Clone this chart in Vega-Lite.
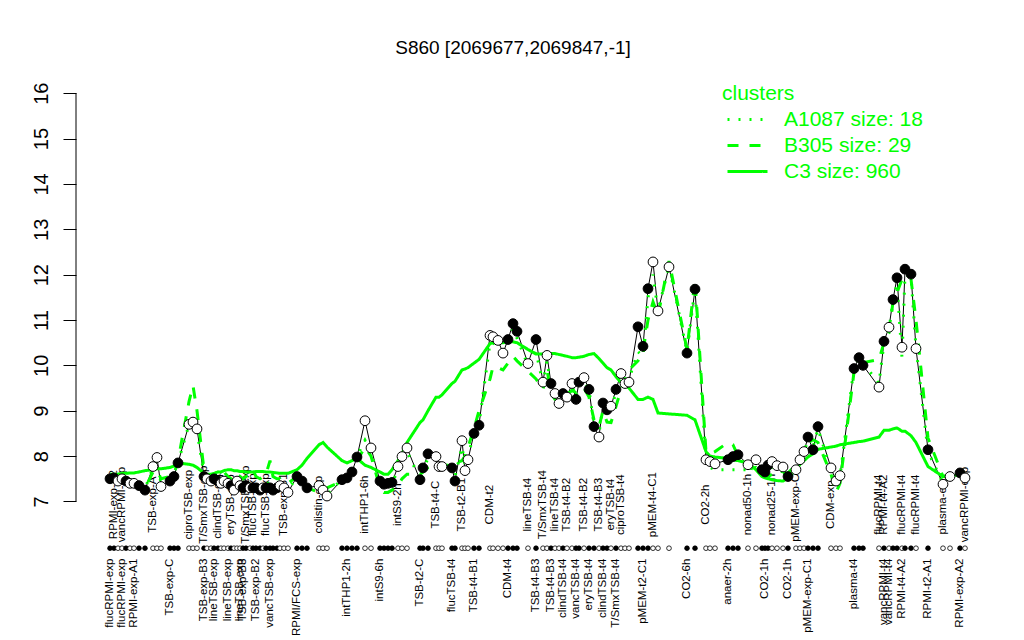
{
"$schema": "https://vega.github.io/schema/vega-lite/v6.json",
"width": 914, "height": 490,
"autosize": {"type": "none"},
"padding": {"left": 76, "top": 75, "right": 34, "bottom": 75},
"background": "white",
"config": {"view": {"stroke": null}, "font": "Liberation Sans"},
"title": {"text": "S860 [2069677,2069847,-1]", "fontSize": 19, "font": "Liberation Sans", "fontWeight": "normal", "anchor": "middle", "baseline": "alphabetic", "offset": 2, "dx": -20, "color": "black"},
"data": {"values": [
{"p":110,"v":7.50,"f":1,"c":7.60,"b":7.50,"a":7.55,"u":"flucRPMI-exp"},
{"p":114,"v":7.52,"f":1,"c":7.60,"b":7.50,"a":7.50,"t":"RPMI-exp-A2"},
{"p":118,"v":7.45,"f":0,"c":7.60,"b":7.48,"a":7.45},
{"p":122,"v":7.50,"f":0,"c":7.62,"b":7.50,"a":7.50,"t":"vancRPMI-exp","u":"flucRPMI-exp"},
{"p":126,"v":7.45,"f":1,"c":7.62,"b":7.45,"a":7.45},
{"p":130,"v":7.40,"f":0,"c":7.63,"b":7.40,"a":7.42},
{"p":134,"v":7.40,"f":0,"c":7.63,"b":7.40,"a":7.40,"u":"RPMI-exp-A1"},
{"p":139,"v":7.35,"f":1,"c":7.65,"b":7.38,"a":7.35},
{"p":145,"v":7.25,"f":1,"c":7.68,"b":7.30,"a":7.28},
{"p":153,"v":7.77,"f":0,"c":7.70,"b":7.65,"a":7.75,"t":"TSB-exp-A"},
{"p":157,"v":7.97,"f":0,"c":7.72,"b":7.70,"a":7.90},
{"p":161,"v":7.33,"f":0,"c":7.72,"b":7.50,"a":7.40},
{"p":170,"v":7.45,"f":1,"c":7.75,"b":7.55,"a":7.50,"u":"TSB-exp-C"},
{"p":174,"v":7.55,"f":1,"c":7.78,"b":7.60,"a":7.55},
{"p":178,"v":7.85,"f":1,"c":7.85,"b":7.90,"a":7.85},
{"p":189,"v":8.70,"f":0,"c":7.82,"b":9.20,"a":8.70,"t":"ciproTSB-exp"},
{"p":193,"v":8.75,"f":0,"c":7.80,"b":9.55,"a":8.75},
{"p":197,"v":8.60,"f":0,"c":7.75,"b":9.00,"a":8.55},
{"p":204,"v":7.55,"f":1,"c":7.62,"b":7.70,"a":7.60,"t":"T/SmxTSB-exp","u":"TSB-exp-B3"},
{"p":207,"v":7.50,"f":0,"c":7.60,"b":7.60,"a":7.50},
{"p":211,"v":7.45,"f":0,"c":7.60,"b":7.55,"a":7.45},
{"p":214,"v":7.50,"f":1,"c":7.62,"b":7.60,"a":7.55,"u":"lineTSB-exp"},
{"p":218,"v":7.45,"f":1,"c":7.65,"b":7.55,"a":7.50,"t":"clindTSB-exp"},
{"p":221,"v":7.40,"f":0,"c":7.65,"b":7.60,"a":7.45},
{"p":224,"v":7.45,"f":0,"c":7.68,"b":7.65,"a":7.50},
{"p":228,"v":7.40,"f":0,"c":7.70,"b":7.55,"a":7.40,"u":"lineTSB-exp"},
{"p":231,"v":7.35,"f":1,"c":7.70,"b":7.50,"a":7.35,"t":"eryTSB-exp"},
{"p":234,"v":7.25,"f":0,"c":7.68,"b":7.45,"a":7.30},
{"p":237,"v":7.45,"f":0,"c":7.68,"b":7.60,"a":7.50},
{"p":240,"v":7.35,"f":0,"c":7.66,"b":7.55,"a":7.40,"u":"lineTSB-exp"},
{"p":243,"v":7.30,"f":1,"c":7.66,"b":7.50,"a":7.35,"u":"TSB-exp-B3"},
{"p":246,"v":7.35,"f":1,"c":7.65,"b":7.55,"a":7.40,"t":"T/SmxTSB-exp"},
{"p":250,"v":7.30,"f":0,"c":7.65,"b":7.60,"a":7.35},
{"p":253,"v":7.30,"f":1,"c":7.65,"b":7.70,"a":7.35,"t":"flucTSB-exp"},
{"p":256,"v":7.30,"f":1,"c":7.66,"b":7.55,"a":7.35,"u":"TSB-exp-B2"},
{"p":260,"v":7.25,"f":1,"c":7.66,"b":7.50,"a":7.30},
{"p":263,"v":7.30,"f":0,"c":7.66,"b":7.55,"a":7.35},
{"p":266,"v":7.30,"f":1,"c":7.65,"b":7.60,"a":7.35,"t":"flucTSB-exp"},
{"p":270,"v":7.30,"f":1,"c":7.65,"b":7.90,"a":7.45,"u":"vancTSB-exp"},
{"p":273,"v":7.25,"f":1,"c":7.64,"b":7.55,"a":7.40},
{"p":277,"v":7.30,"f":1,"c":7.63,"b":7.50,"a":7.35},
{"p":280,"v":7.35,"f":0,"c":7.62,"b":7.50,"a":7.40},
{"p":284,"v":7.30,"f":0,"c":7.62,"b":7.45,"a":7.35,"t":"TSB-exp-B1"},
{"p":288,"v":7.20,"f":0,"c":7.62,"b":7.40,"a":7.25},
{"p":297,"v":7.55,"f":1,"c":7.70,"b":7.55,"a":7.55,"u":"RPMI/FCS-exp"},
{"p":302,"v":7.45,"f":1,"c":7.80,"b":7.45,"a":7.45},
{"p":307,"v":7.30,"f":1,"c":7.95,"b":7.30,"a":7.30},
{"p":319,"v":7.35,"f":0,"c":8.25,"b":7.20,"a":7.40,"t":"colistin-exp"},
{"p":323,"v":7.25,"f":0,"c":8.30,"b":7.25,"a":7.35},
{"p":327,"v":7.12,"f":0,"c":8.20,"b":7.30,"a":7.15},
{"p":342,"v":7.48,"f":1,"c":7.90,"b":7.45,"a":7.50},
{"p":347,"v":7.52,"f":1,"c":7.85,"b":7.55,"a":7.50,"u":"intTHP1-2h"},
{"p":352,"v":7.65,"f":1,"c":7.90,"b":7.70,"a":7.65},
{"p":357,"v":7.98,"f":1,"c":7.95,"b":7.90,"a":8.00},
{"p":365,"v":8.78,"f":0,"c":7.80,"b":8.20,"a":8.35,"t":"intTHP1-6h"},
{"p":371,"v":8.18,"f":0,"c":7.75,"b":8.00,"a":8.10},
{"p":380,"v":7.45,"f":1,"c":7.65,"b":7.30,"a":7.40,"u":"intS9-6h"},
{"p":384,"v":7.38,"f":1,"c":7.60,"b":7.20,"a":7.35},
{"p":388,"v":7.40,"f":1,"c":7.60,"b":7.20,"a":7.40},
{"p":392,"v":7.42,"f":1,"c":7.70,"b":7.25,"a":7.40},
{"p":398,"v":7.77,"f":0,"c":7.90,"b":7.35,"a":7.70,"t":"intS9-2h"},
{"p":402,"v":7.99,"f":0,"c":8.05,"b":7.50,"a":7.90},
{"p":407,"v":8.18,"f":0,"c":8.30,"b":7.60,"a":8.10},
{"p":420,"v":7.48,"f":1,"c":8.74,"b":7.60,"a":7.50,"u":"TSB-t2-C"},
{"p":423,"v":7.74,"f":1,"c":8.80,"b":7.65,"a":7.70},
{"p":428,"v":8.05,"f":1,"c":9.00,"b":7.75,"a":7.95},
{"p":436,"v":7.99,"f":0,"c":9.30,"b":7.85,"a":7.95,"t":"TSB-t4-C"},
{"p":439,"v":7.77,"f":0,"c":9.30,"b":7.80,"a":7.80},
{"p":442,"v":7.77,"f":0,"c":9.35,"b":7.80,"a":7.80},
{"p":452,"v":7.74,"f":1,"c":9.60,"b":7.80,"a":7.75,"u":"flucTSB-t4"},
{"p":455,"v":7.45,"f":1,"c":9.65,"b":7.85,"a":7.55},
{"p":462,"v":8.34,"f":0,"c":9.90,"b":7.90,"a":8.20,"t":"TSB-t2-B1"},
{"p":465,"v":7.68,"f":0,"c":9.92,"b":8.00,"a":7.80},
{"p":468,"v":7.92,"f":0,"c":9.95,"b":8.20,"a":8.00},
{"p":474,"v":8.50,"f":1,"c":10.05,"b":8.60,"a":8.50,"u":"TSB-t4-B1"},
{"p":479,"v":8.68,"f":1,"c":10.13,"b":9.00,"a":8.70},
{"p":490,"v":10.66,"f":0,"c":10.48,"b":9.70,"a":10.50,"t":"CDM-t2"},
{"p":493,"v":10.63,"f":0,"c":10.50,"b":9.97,"a":10.50},
{"p":498,"v":10.55,"f":0,"c":10.50,"b":9.95,"a":10.40},
{"p":503,"v":10.27,"f":0,"c":10.50,"b":9.90,"a":10.20},
{"p":508,"v":10.57,"f":1,"c":10.52,"b":10.05,"a":10.45,"u":"CDM-t4"},
{"p":513,"v":10.92,"f":1,"c":10.52,"b":10.20,"a":10.80},
{"p":517,"v":10.75,"f":1,"c":10.50,"b":10.10,"a":10.60},
{"p":528,"v":10.04,"f":0,"c":10.35,"b":9.87,"a":10.00,"t":"lineTSB-t4"},
{"p":536,"v":10.57,"f":1,"c":10.25,"b":9.70,"a":10.30,"u":"TSB-t4-B3"},
{"p":543,"v":9.63,"f":0,"c":10.25,"b":9.47,"a":9.60,"t":"T/SmxTSB-t4"},
{"p":547,"v":10.22,"f":0,"c":10.26,"b":9.90,"a":10.10},
{"p":551,"v":9.60,"f":1,"c":10.26,"b":9.40,"a":9.55,"u":"TSB-t4-B3"},
{"p":555,"v":9.38,"f":0,"c":10.26,"b":9.25,"a":9.35,"t":"lineTSB-t4"},
{"p":559,"v":9.16,"f":0,"c":10.24,"b":9.20,"a":9.20},
{"p":563,"v":9.38,"f":1,"c":10.22,"b":9.30,"a":9.40,"u":"clindTSB-t4"},
{"p":567,"v":9.30,"f":0,"c":10.20,"b":9.35,"a":9.30,"t":"TSB-t4-B2"},
{"p":572,"v":9.60,"f":0,"c":10.17,"b":9.45,"a":9.55},
{"p":576,"v":9.25,"f":1,"c":10.17,"b":9.40,"a":9.30,"u":"vancTSB-t4"},
{"p":579,"v":9.63,"f":1,"c":10.18,"b":9.50,"a":9.60},
{"p":584,"v":9.73,"f":0,"c":10.20,"b":9.50,"a":9.65,"t":"TSB-t4-B2"},
{"p":589,"v":9.47,"f":1,"c":10.24,"b":9.30,"a":9.45,"u":"eryTSB-t4"},
{"p":594,"v":8.65,"f":1,"c":10.26,"b":8.80,"a":8.70},
{"p":599,"v":8.42,"f":0,"c":10.15,"b":8.65,"a":8.50,"t":"TSB-t4-B3"},
{"p":603,"v":9.17,"f":1,"c":10.05,"b":9.00,"a":9.10,"u":"clindTSB-t4"},
{"p":607,"v":9.02,"f":1,"c":9.95,"b":8.75,"a":9.00},
{"p":611,"v":9.10,"f":0,"c":9.90,"b":8.74,"a":9.05,"t":"eryTSB-t4"},
{"p":616,"v":9.47,"f":1,"c":9.75,"b":9.10,"a":9.40,"u":"T/SmxTSB-t4"},
{"p":621,"v":9.82,"f":0,"c":9.62,"b":9.47,"a":9.75,"t":"ciproTSB-t4"},
{"p":625,"v":9.60,"f":0,"c":9.55,"b":9.70,"a":9.60},
{"p":629,"v":9.63,"f":0,"c":9.50,"b":9.90,"a":9.70},
{"p":638,"v":10.85,"f":1,"c":9.25,"b":10.10,"a":10.30},
{"p":643,"v":10.42,"f":1,"c":9.25,"b":10.30,"a":10.20,"u":"pMEM-t2-C1"},
{"p":648,"v":11.69,"f":1,"c":9.30,"b":11.00,"a":11.50},
{"p":653,"v":12.28,"f":0,"c":9.25,"b":11.40,"a":12.00,"t":"pMEM-t4-C1"},
{"p":658,"v":11.20,"f":0,"c":8.95,"b":11.10,"a":11.20},
{"p":669,"v":12.17,"f":0,"c":8.93,"b":12.30,"a":12.20},
{"p":687,"v":10.27,"f":1,"c":8.90,"b":10.35,"a":10.30,"u":"CO2-6h"},
{"p":695,"v":11.68,"f":1,"c":8.80,"b":11.90,"a":11.70},
{"p":706,"v":7.92,"f":0,"c":8.10,"b":8.10,"a":7.90,"t":"CO2-2h"},
{"p":710,"v":7.88,"f":0,"c":8.00,"b":8.05,"a":7.75},
{"p":715,"v":7.83,"f":0,"c":7.98,"b":8.10,"a":7.70},
{"p":728,"v":7.92,"f":1,"c":7.95,"b":8.30,"a":7.70,"u":"anaer-2h"},
{"p":733,"v":7.99,"f":1,"c":7.92,"b":8.25,"a":7.70},
{"p":738,"v":8.03,"f":1,"c":7.90,"b":8.00,"a":7.70},
{"p":748,"v":7.81,"f":0,"c":7.85,"b":7.75,"a":7.70,"t":"nonad50-1h"},
{"p":756,"v":7.92,"f":0,"c":7.70,"b":7.70,"a":7.75},
{"p":762,"v":7.70,"f":1,"c":7.55,"b":7.60,"a":7.65},
{"p":765,"v":7.65,"f":1,"c":7.52,"b":7.55,"a":7.60,"u":"CO2-1h"},
{"p":768,"v":7.80,"f":1,"c":7.50,"b":7.55,"a":7.70},
{"p":772,"v":7.88,"f":0,"c":7.48,"b":7.60,"a":7.75,"t":"nonad25-1h"},
{"p":777,"v":7.79,"f":0,"c":7.46,"b":7.60,"a":7.70},
{"p":783,"v":7.76,"f":0,"c":7.45,"b":7.62,"a":7.65},
{"p":788,"v":7.55,"f":1,"c":7.52,"b":7.63,"a":7.55,"u":"CO2-1h"},
{"p":796,"v":7.70,"f":0,"c":7.70,"b":7.80,"a":7.70,"t":"pMEM-exp-C2"},
{"p":800,"v":7.92,"f":0,"c":7.82,"b":7.95,"a":7.90},
{"p":804,"v":8.10,"f":0,"c":7.90,"b":8.08,"a":8.05},
{"p":808,"v":8.42,"f":1,"c":7.98,"b":8.30,"a":8.40,"u":"pMEM-exp-C1"},
{"p":813,"v":8.14,"f":1,"c":8.05,"b":8.36,"a":8.20},
{"p":818,"v":8.65,"f":1,"c":8.15,"b":8.30,"a":8.60},
{"p":831,"v":7.74,"f":0,"c":8.20,"b":7.60,"a":7.70,"t":"CDM-exp"},
{"p":836,"v":7.45,"f":0,"c":8.22,"b":7.20,"a":7.40},
{"p":840,"v":7.57,"f":0,"c":8.25,"b":7.40,"a":7.55},
{"p":854,"v":9.93,"f":1,"c":8.30,"b":9.85,"a":9.95,"u":"plasma-t4"},
{"p":859,"v":10.17,"f":1,"c":8.32,"b":10.00,"a":10.15},
{"p":863,"v":10.00,"f":1,"c":8.33,"b":10.06,"a":10.05},
{"p":879,"v":9.52,"f":0,"c":8.42,"b":10.13,"a":9.60,"t":"flucRPMI-t4"},
{"p":884,"v":10.53,"f":1,"c":8.57,"b":10.50,"a":10.50,"t":"RPMI-t4-A2","u":"vancRPMI-t4"},
{"p":889,"v":10.84,"f":0,"c":8.57,"b":10.72,"a":10.80,"u":"vancRPMI-t4"},
{"p":893,"v":11.45,"f":1,"c":8.60,"b":11.40,"a":11.40},
{"p":897,"v":11.93,"f":1,"c":8.62,"b":11.60,"a":11.80},
{"p":902,"v":10.40,"f":0,"c":8.55,"b":11.90,"a":10.17,"t":"flucRPMI-t4","u":"RPMI-t4-A2"},
{"p":905,"v":12.12,"f":1,"c":8.55,"b":11.96,"a":12.00},
{"p":911,"v":12.01,"f":1,"c":8.45,"b":11.90,"a":11.95},
{"p":916,"v":10.37,"f":0,"c":8.30,"b":11.00,"a":10.40,"t":"flucRPMI-t4"},
{"p":928,"v":8.14,"f":1,"c":7.77,"b":8.40,"a":8.10,"u":"RPMI-t2-A1"},
{"p":943,"v":7.38,"f":0,"c":7.55,"b":7.55,"a":7.40,"t":"plasma-exp"},
{"p":950,"v":7.55,"f":0,"c":7.55,"b":7.60,"a":7.55},
{"p":960,"v":7.63,"f":1,"c":7.60,"b":7.60,"a":7.60,"u":"RPMI-exp-A2"},
{"p":965,"v":7.52,"f":0,"c":7.63,"b":7.55,"a":7.52,"t":"vancRPMI-exp"}
]},
"encoding": {
  "x": {"field": "p", "type": "quantitative", "scale": {"domain": [76, 990], "nice": false, "zero": false}, "axis": null}
},
"layer": [
  {
    "transform": [{"filter": "isValid(datum.t)"}],
    "mark": {"type": "text", "angle": 270, "align": "center", "baseline": "middle", "fontSize": 11.5, "font": "Liberation Sans", "color": "black"},
    "encoding": {"y": {"datum": 6.93, "type": "quantitative"}, "text": {"field": "t"}}
  },
  {
    "transform": [{"filter": "isValid(datum.u)"}],
    "mark": {"type": "text", "angle": 270, "align": "right", "baseline": "middle", "fontSize": 11.5, "font": "Liberation Sans", "color": "black"},
    "encoding": {"y": {"datum": 5.74, "type": "quantitative"}, "text": {"field": "u"}}
  },
  {
    "transform": [{"filter": "datum.p == 110"}],
    "mark": {"type": "rule", "color": "black", "strokeWidth": 1},
    "encoding": {"x": {"datum": 76}, "y": {"datum": 7}, "y2": {"datum": 16}}
  },
  {
    "mark": {"type": "line", "color": "black", "strokeWidth": 1},
    "encoding": {
      "y": {"field": "v", "type": "quantitative",
        "scale": {"domain": [5.6, 16.4], "nice": false, "zero": false},
        "axis": {"values": [7,8,9,10,11,12,13,14,15,16], "domain": false, "grid": false, "title": null, "tickSize": 13, "tickColor": "black", "tickWidth": 1, "labelAngle": 270, "labelAlign": "center", "labelBaseline": "alphabetic", "labelPadding": 16, "labelFontSize": 20, "labelFont": "Liberation Sans", "labelColor": "black"}}
    }
  },
  {
    "transform": [{"fold": ["a", "b", "c"], "as": ["cl", "cv"]}],
    "mark": {"type": "line", "color": "#00FF00", "strokeWidth": 3},
    "encoding": {
      "y": {"field": "cv", "type": "quantitative"},
      "strokeDash": {"field": "cl", "type": "nominal",
        "scale": {"domain": ["a", "b", "c"], "range": [[2, 9], [11, 11], [1, 0]]},
        "legend": {"title": "clusters", "orient": "none", "legendX": 646, "legendY": 8,
          "titleColor": "#00FF00", "titleFontSize": 21, "titleFont": "Liberation Sans", "titleFontWeight": "normal", "titlePadding": 5,
          "labelColor": "#00FF00", "labelFontSize": 21, "labelFont": "Liberation Sans", "labelOffset": 41, "rowPadding": 4,
          "symbolType": "M-1,0H7", "symbolSize": 100, "symbolStrokeWidth": 3, "symbolStrokeColor": "#00FF00",
          "labelExpr": "datum.label == 'a' ? 'A1087 size: 18' : datum.label == 'b' ? 'B305 size: 29' : 'C3 size: 960'"}}
    }
  },
  {
    "mark": {"type": "point", "shape": "circle", "filled": false, "stroke": "black", "strokeWidth": 1, "size": 95, "opacity": 1},
    "encoding": {
      "y": {"field": "v", "type": "quantitative"},
      "fill": {"condition": {"test": "datum.f == 1", "value": "black"}, "value": "white"}
    }
  },
  {
    "mark": {"type": "point", "shape": "circle", "filled": false, "stroke": "black", "strokeWidth": 0.8, "size": 22, "opacity": 1},
    "encoding": {
      "y": {"datum": 5.97, "type": "quantitative"},
      "fill": {"condition": {"test": "datum.f == 1", "value": "black"}, "value": "white"}
    }
  }
]
}
